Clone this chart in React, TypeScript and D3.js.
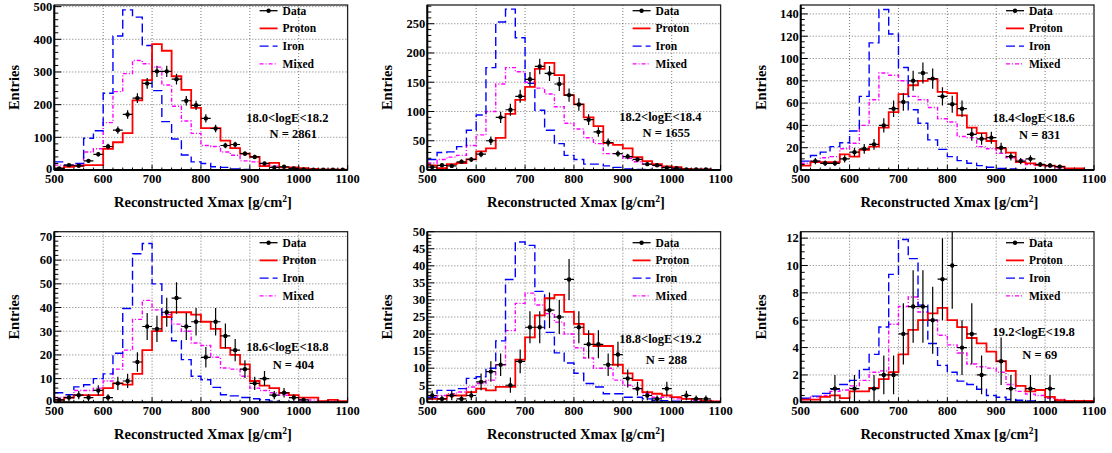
import React from 'react';
import * as d3 from 'd3';

// 30 bins of 20 g/cm2 from 500 to 1100
const binLows = d3.range(500, 1100, 20);

const dataP1 = [5,15,13,28,48,72,122,170,220,265,302,302,278,212,198,158,127,75,78,50,40,20,8,10,5,2,1,1,1,1];
const protonP1 = [5,10,12,15,15,65,85,113,213,275,385,365,287,245,190,128,128,90,67,50,40,12,22,8,8,6,3,2,2,1];
const ironP1 = [25,15,20,97,120,235,410,490,468,381,243,148,95,46,25,20,10,8,3,2,1,0.5,0,0,0,0,0,0,0,0];
const mixedP1 = [15,12,18,55,65,145,240,295,335,325,315,260,195,150,112,75,72,55,45,28,25,15,12,8,5,3,2,1,1,1];

const dataP2 = [5,8,7,14,18,27,50,90,103,126,155,177,165,147,128,112,86,65,47,28,23,18,10,8,4,3,1,1,1,0];
const protonP2 = [8,3,10,12,18,32,37,55,96,120,142,173,183,162,128,112,90,75,46,43,37,22,15,10,6,5,2,1,1,0];
const ironP2 = [18,30,31,40,68,94,175,253,275,226,148,102,68,45,25,18,10,10,7,4.5,2,1,1,0,0,0,0,0,0,0];
const mixedP2 = [12,18,22,25,42,60,100,147,175,168,150,140,130,108,80,70,55,45,28,28,20,14,10,7,5,3,2,1,1,0];

const dataP3 = [0,8,6,6,10,16,19,23,40,55,61,80,87,82,66,59,55,32,28,29,20,12,8,10,5,4,3,0,0,0];
const protonP3 = [4,7,7,7,14,12,18,21,38,52,68,76,80,81.5,70,69,49,38,33,26,19.4,15.5,7,6,4.5,4,3,1.5,1.5,0];
const ironP3 = [8,13,16,21,24.5,35,66,114,144,122,92,54,42,27,18.5,12,8.4,6,3.9,2.4,1.5,1,0.5,0,0,0,0,0,0,0];
const mixedP3 = [6,8,11,12,19,24,40,63,87,85,80,66,63,56,46,43,30,29,21,19,15,11,9,5,4,3,2,1,1,0];

const dataP4 = [1,2,3,2,5,2,8,9,17,32,31,38,44,32,34,19,34,28,22,14,8,10,3,4,2,1,0,0,0,0];
const protonP4 = [1,2,3,3,3,6,8,7.5,12,22,30,36,38,38,37,34,31,23,20,16,9,7,6,4,3,2,2,0.5,1,0.5];
const ironP4 = [4,3.2,6.5,7.4,10,12,20.7,39.6,62.7,67,50,36,26,18,11,9.5,6.3,3.2,2.7,2,1.5,1.1,0.5,0,0,0,0,0,0,0];
const mixedP4 = [2,2,5,5,6,9,14,22,35,43,39,37,33,30,25,24,19,14.5,14,11,6,5,4,3,2,1,1,0.5,0.5,0.3];

const dataP5 = [2,1,2,1,2,6,9,11,5,12,22,22,27,25,36,22,17,17,11,14,7,4,2,1,4,0,2,1,1,0];
const protonP5 = [1,1,2,2,3,4,3.5,4.5,4.5,12.5,19,25.5,30.5,31.5,26.5,23,20,16.5,16.5,11,8.5,6.5,3,2.5,2,1.5,1,1,0.5,0.3];
const ironP5 = [1.5,3.5,3.5,4,7,7.5,10,18,36,47,46,32.5,20.5,14.5,11.5,8.5,5.5,4.5,2.5,2.5,1.5,1.5,1,0.5,0.5,0.3,0.2,0.2,0.2,0.2];
const mixedP5 = [1.5,2,2.5,3,4.5,5.5,6.5,11,21,29,32,28.5,26,23.5,20,16,13,10,10,6.5,5,4,2.5,1.5,1.5,1,1,0.5,0.5,0.3];

const dataP6 = [0,0,0,1,0,1,0,1,2,2,5,7,7,6,9,10,4,5,2,0,3,1,0,1,0,1,0,0,0,0];
const protonP6 = [0.2,0.2,0.4,0.5,0.3,0.8,0.8,1.05,1.7,2.2,3.5,5.3,6,6.5,6.9,6,5.5,4.7,4.3,3.7,3,2.3,1.2,0.8,0.9,0.4,0.15,0.1,0.1,0.1];
const ironP6 = [0.3,0.45,0.65,0.95,1.3,1.6,2.4,3.5,5.5,9.35,11.9,10.5,7.1,4.3,2.7,2.2,1.55,1.3,0.95,0.5,0.37,0.2,0.15,0.1,0.05,0.05,0,0,0,0];
const mixedP6 = [0.2,0.4,0.5,0.8,0.9,1.2,1.6,2.2,2.3,5.7,7,7.7,6.6,6,4.9,4.2,3.6,2.8,2.6,2.5,2.2,1.3,0.8,0.6,0.5,0.3,0.2,0.1,0.1,0.05];

const energyLabels = ['18.0<logE<18.2', '18.2<logE<18.4', '18.4<logE<18.6', '18.6<logE<18.8', '18.8<logE<19.2', '19.2<logE<19.8'];
const eventCounts = [2861, 1655, 831, 404, 288, 69];
const yMaxes = [505, 282, 148, 72, 50, 12.47];
const yTickSteps = [100, 50, 20, 10, 5, 2];
const yMinorDivs = [5, 5, 4, 5, 5, 4];
const xTicks = [500, 600, 700, 800, 900, 1000, 1100];
const legendNames = ['Data', 'Proton', 'Iron', 'Mixed'];

const series = [
  { data: dataP1, proton: protonP1, iron: ironP1, mixed: mixedP1 },
  { data: dataP2, proton: protonP2, iron: ironP2, mixed: mixedP2 },
  { data: dataP3, proton: protonP3, iron: ironP3, mixed: mixedP3 },
  { data: dataP4, proton: protonP4, iron: ironP4, mixed: mixedP4 },
  { data: dataP5, proton: protonP5, iron: ironP5, mixed: mixedP5 },
  { data: dataP6, proton: protonP6, iron: ironP6, mixed: mixedP6 },
];

// layout (pixels)
const colLeft = [54.3, 427.3, 800.7];
const frameW = 293.3;
const rowTop = [5, 231.7];
const rowBottom = [170, 402.3];
const legendTop = [10.7, 242.7];
const legendStep = 17.7;
const labelDy = [116.5, 116, 117, 119.3, 110.8, 104.3];
const countDy = [133, 132, 134, 137.3, 131.8, 127.3];

const FONT = 'Liberation Serif, Times New Roman, serif';
const RED = '#ff0000';
const BLUE = '#0000ff';
const MAGENTA = '#ff00ff';

const Panel = ({ idx }: { idx: number }) => {
  const col = idx % 3;
  const row = Math.floor(idx / 3);
  const left = colLeft[col];
  const right = left + frameW;
  const top = rowTop[row];
  const bottom = rowBottom[row];
  const s = series[idx];

  const x = d3.scaleLinear().domain([500, 1100]).range([left, right]);
  const y = d3.scaleLinear().domain([0, yMaxes[idx]]).range([bottom, top]);

  const step = d3
    .line<[number, number]>()
    .x((d) => x(d[0]))
    .y((d) => y(d[1]))
    .curve(d3.curveStepAfter);
  const stepPts = (vals: number[]) => {
    const pts: [number, number][] = binLows.map((b, i) => [b, vals[i]]);
    pts.push([1100, vals[vals.length - 1]]);
    return step(pts) || '';
  };

  const majors = d3.range(0, yMaxes[idx] + 1e-6, yTickSteps[idx]);
  const minorStep = yTickSteps[idx] / yMinorDivs[idx];
  const minors = d3.range(0, yMaxes[idx] + 1e-6, minorStep);
  const xMinors = d3.range(500, 1100.1, 20);
  const clipId = `clip${idx}`;

  const legX = right - 88;
  const legColors = ['#000', RED, BLUE, MAGENTA];
  const legDash = [undefined, undefined, '9,4', '4,2,1,2'];

  return (
    <g>
      <defs>
        <clipPath id={clipId}>
          <rect x={left} y={top} width={right - left} height={bottom - top} />
        </clipPath>
      </defs>
      {/* grid */}
      <g stroke="#555" strokeWidth={0.8} strokeDasharray="1,2">
        {xTicks.slice(1, -1).map((t) => (
          <line key={'gx' + t} x1={x(t)} x2={x(t)} y1={top} y2={bottom} />
        ))}
        {majors.filter((t) => t > 0).map((t) => (
          <line key={'gy' + t} x1={left} x2={right} y1={y(t)} y2={y(t)} />
        ))}
      </g>
      {/* histograms */}
      <g clipPath={`url(#${clipId})`} fill="none">
        <path d={stepPts(s.mixed)} stroke={MAGENTA} strokeWidth={1.4} strokeDasharray="4,2,1,2" />
        <path d={stepPts(s.iron)} stroke={BLUE} strokeWidth={1.4} strokeDasharray="9,4" />
        <path d={stepPts(s.proton)} stroke={RED} strokeWidth={1.8} />
        <g stroke="#000" strokeWidth={1.2}>
          {binLows.map((b, i) => {
            const v = s.data[i];
            if (!v) return null;
            const cx = x(b + 10);
            const e = Math.sqrt(v);
            return (
              <g key={'d' + b}>
                <line x1={x(b)} x2={x(b + 20)} y1={y(v)} y2={y(v)} />
                <line x1={cx} x2={cx} y1={y(v - e)} y2={y(v + e)} />
                <circle cx={cx} cy={y(v)} r={2.2} fill="#000" stroke="none" />
              </g>
            );
          })}
        </g>
      </g>
      {/* frame and axes */}
      <rect x={left} y={top} width={right - left} height={bottom - top} fill="none" stroke="#222" strokeWidth={1.3} />
      <line x1={left} x2={left} y1={top} y2={bottom} stroke="#000" strokeWidth={2} />
      <line x1={left} x2={right} y1={bottom} y2={bottom} stroke="#000" strokeWidth={2} />
      <g stroke="#000" strokeWidth={1}>
        {minors.map((t) => {
          const major = majors.some((m) => Math.abs(m - t) < 1e-6);
          return <line key={'ty' + t} x1={left} x2={left + (major ? 7 : 4)} y1={y(t)} y2={y(t)} />;
        })}
        {xMinors.map((t) => {
          const major = (t - 500) % 100 === 0;
          return <line key={'tx' + t} x1={x(t)} x2={x(t)} y1={bottom} y2={bottom - (major ? 5 : 2.5)} />;
        })}
      </g>
      <g fontWeight="bold" fontSize={12.5} fill="#000">
        {majors.map((t) => (
          <text key={'ly' + t} x={left - 2} y={y(t) + (t === 0 ? 3 : 4.3)} textAnchor="end">
            {d3.format('~g')(t)}
          </text>
        ))}
        {xTicks.map((t) => (
          <text key={'lx' + t} x={x(t)} y={bottom + 12.5} textAnchor="middle">
            {t}
          </text>
        ))}
      </g>
      {/* axis titles */}
      <text
        fontWeight="bold"
        fontSize={14.5}
        textAnchor="middle"
        transform={`translate(${left - 35},${(top + bottom) / 2}) rotate(-90)`}
      >
        Entries
      </text>
      <text fontWeight="bold" fontSize={14.5} textAnchor="middle" x={(left + right) / 2 + 2} y={bottom + 37}>
        Reconstructed Xmax [g/cm<tspan dy={-5} fontSize={9.5}>2</tspan><tspan dy={5}>]</tspan>
      </text>
      {/* annotation */}
      <g fontWeight="bold" fontSize={12.5} textAnchor="middle">
        <text x={left + 233} y={top + labelDy[idx]}>{energyLabels[idx]}</text>
        <text x={left + 239} y={top + countDy[idx]}>N = {eventCounts[idx]}</text>
      </g>
      {/* legend */}
      <g fontWeight="bold" fontSize={11.5}>
        {legendNames.map((name, k) => {
          const ly = legendTop[row] + k * legendStep;
          return (
            <g key={name}>
              <line
                x1={legX}
                x2={legX + 18}
                y1={ly}
                y2={ly}
                stroke={legColors[k]}
                strokeWidth={k === 1 ? 1.8 : 1.3}
                strokeDasharray={legDash[k]}
              />
              {k === 0 && <circle cx={legX + 9} cy={ly} r={2.2} fill="#000" />}
              <text x={legX + 23} y={ly + 4}>{name}</text>
            </g>
          );
        })}
      </g>
    </g>
  );
};

const App = () => (
  <svg
    width={1112}
    height={453}
    style={{ position: 'absolute', left: 0, top: 0, background: '#fff', fontFamily: FONT }}
  >
    <rect width={1112} height={453} fill="#fff" />
    {series.map((_, i) => (
      <Panel key={i} idx={i} />
    ))}
  </svg>
);

export default App;
